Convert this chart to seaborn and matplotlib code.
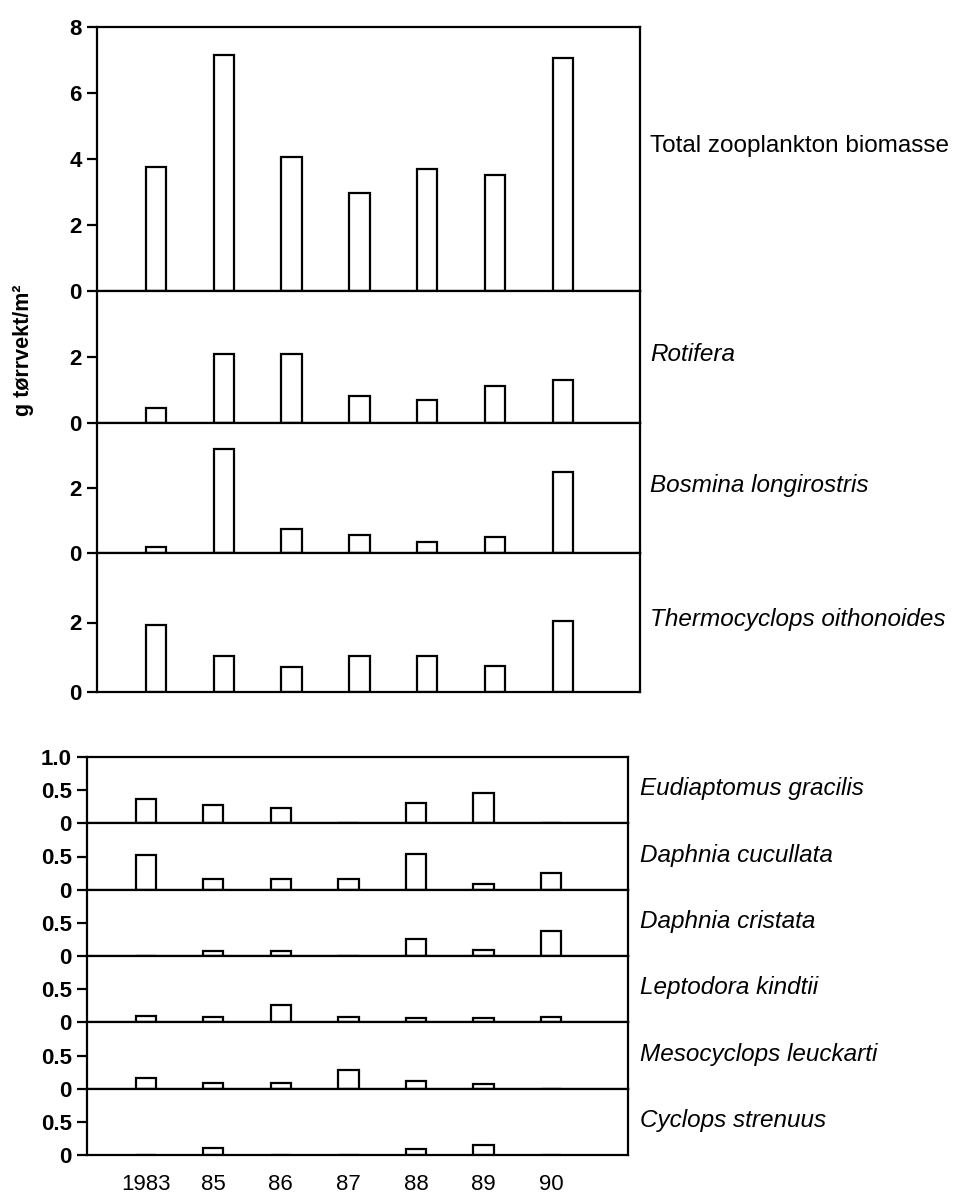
import numpy as np
import pandas as pd
import matplotlib
matplotlib.use("Agg")
import matplotlib.pyplot as plt
import seaborn as sns

# år og biomasse (g tørrvekt/m2), lest av figuren
år = ["1983", "85", "86", "87", "88", "89", "90"]

total = [3.76, 7.14, 4.05, 2.98, 3.71, 3.51, 7.06]
rotifera = [0.45, 2.10, 2.08, 0.83, 0.70, 1.12, 1.30]
bosmina = [0.18, 3.20, 0.74, 0.54, 0.35, 0.48, 2.48]
thermocyclops = [1.92, 1.05, 0.72, 1.05, 1.05, 0.75, 2.05]

eudiaptomus = [0.37, 0.28, 0.23, 0.0, 0.30, 0.45, 0.0]
daphnia_cuc = [0.53, 0.16, 0.155, 0.155, 0.54, 0.08, 0.25]
daphnia_cri = [0.0, 0.08, 0.07, 0.0, 0.26, 0.09, 0.38]
leptodora = [0.10, 0.085, 0.26, 0.08, 0.07, 0.07, 0.075]
mesocyclops = [0.16, 0.08, 0.08, 0.28, 0.12, 0.065, 0.0]
cyclops = [0.0, 0.10, 0.0, 0.0, 0.09, 0.15, 0.0]

øvre = [
    ("Total zooplankton biomasse", False, total, 8, [0, 2, 4, 6, 8], ["0", "2", "4", "6", "8"]),
    ("Rotifera", True, rotifera, 4, [0, 2], ["0", "2"]),
    ("Bosmina longirostris", True, bosmina, 4, [0, 2], ["0", "2"]),
    ("Thermocyclops oithonoides", True, thermocyclops, 4, [0, 2], ["0", "2"]),
]
nedre = [
    ("Eudiaptomus gracilis", eudiaptomus, [0, 0.5, 1.0], ["0", "0.5", "1.0"]),
    ("Daphnia cucullata", daphnia_cuc, [0, 0.5], ["0", "0.5"]),
    ("Daphnia cristata", daphnia_cri, [0, 0.5], ["0", "0.5"]),
    ("Leptodora kindtii", leptodora, [0, 0.5], ["0", "0.5"]),
    ("Mesocyclops leuckarti", mesocyclops, [0, 0.5], ["0", "0.5"]),
    ("Cyclops strenuus", cyclops, [0, 0.5], ["0", "0.5"]),
]

sns.set_style("ticks")
plt.rcParams["font.family"] = ["Liberation Sans", "DejaVu Sans"]
plt.rcParams["text.color"] = "black"
plt.rcParams["xtick.color"] = "black"
plt.rcParams["ytick.color"] = "black"
plt.rcParams["xtick.labelcolor"] = "black"
plt.rcParams["ytick.labelcolor"] = "black"

B, H = 957, 1198
fig = plt.figure(figsize=(B / 100, H / 100), dpi=100)
LW = 1.6


def akse(x0, x1, y0, y1):
    return fig.add_axes([x0 / B, 1 - y1 / H, (x1 - x0) / B, (y1 - y0) / H])


def tegn_panel(ax, verdier, ymax, ticks, ticklabels, navn, kursiv, tekst_x, tekst_y=0.52, vis_år=False):
    df = pd.DataFrame({"år": år, "verdi": verdier})
    sns.barplot(data=df, x="år", y="verdi", order=år, color="white",
                edgecolor="black", linewidth=LW, width=0.3, saturation=1, ax=ax)
    ax.set_xlim(-0.87, 7.14)
    ax.set_ylim(0, ymax)
    ax.set_yticks(ticks)
    ax.set_yticklabels(ticklabels, fontweight="bold")
    ax.set_xlabel("")
    ax.set_ylabel("")
    for s in ax.spines.values():
        s.set_visible(True)
        s.set_linewidth(LW)
        s.set_color("black")
    ax.tick_params(axis="y", direction="out", length=7, width=LW, labelsize=16, pad=4)
    ax.tick_params(axis="x", length=0, labelsize=16, pad=14)
    if not vis_år:
        ax.set_xticklabels([])
    ax.text(tekst_x, tekst_y, navn, transform=ax.transAxes, ha="left", va="center",
            fontsize=17.5, color="black", style="italic" if kursiv else "normal")


# øvre gruppe
grenser = [27, 291, 423, 553, 692]
for i, (navn, kursiv, verdier, ymax, ticks, labels) in enumerate(øvre):
    ax = akse(97, 640, grenser[i], grenser[i + 1])
    tegn_panel(ax, verdier, ymax, ticks, labels, navn, kursiv, (650 - 97) / 543,
               tekst_y=0.55 if i == 0 else 0.52)

# nedre gruppe
topp, bunn = 757, 1155
h = (bunn - topp) / len(nedre)
for i, (navn, verdier, ticks, labels) in enumerate(nedre):
    ax = akse(87, 628, topp + i * h, topp + (i + 1) * h)
    tegn_panel(ax, verdier, 1.0, ticks, labels, navn, True, (640 - 87) / 541,
               vis_år=(i == len(nedre) - 1))

fig.text(23 / B, 1 - 350 / H, "g tørrvekt/m²", rotation=90, ha="center", va="center",
         fontsize=15.5, fontweight="bold")

fig.savefig("out.png", dpi=100)
